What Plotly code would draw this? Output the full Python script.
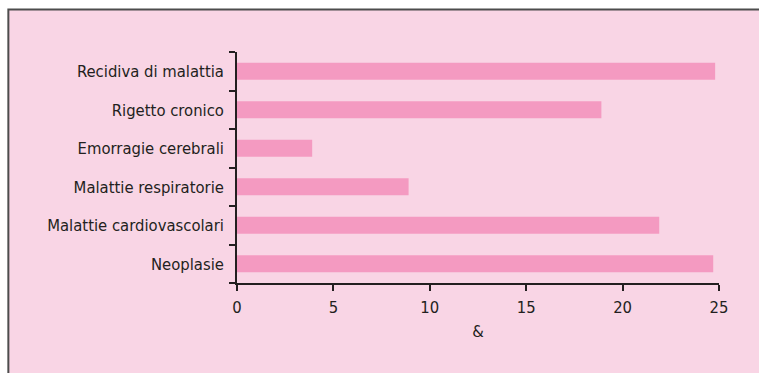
import plotly.graph_objects as go

categories = ["Neoplasie", "Malattie cardiovascolari", "Malattie respiratorie",
              "Emorragie cerebrali", "Rigetto cronico", "Recidiva di malattia"]
values = [24.7, 21.9, 8.9, 3.9, 18.9, 24.8]
x_ticks = [0, 5, 10, 15, 20, 25]
x_title = "&"

PINK_BG = "#f9d5e5"
BAR = "#f49ac1"
TXT = "#231f20"
FONT = "DejaVu Sans Condensed, DejaVu Sans, sans-serif"
FS = 16.5

fig = go.Figure(go.Bar(
    x=values, y=categories, orientation="h",
    marker=dict(color=BAR, line=dict(width=0)),
    width=0.44,
))

W, H = 759, 373
L, R, T, B = 237, 759 - 718.7, 52, 373 - 283.3
pw, ph = W - L - R, H - T - B

fig.add_shape(type="rect", xref="paper", yref="paper", layer="below",
              x0=(8.5 - L) / pw, x1=1.3,
              y0=-0.6, y1=(H - B - 9.5) / ph,
              fillcolor=PINK_BG, line=dict(color="#4d4d4d", width=2))

fig.update_layout(
    width=W, height=H,
    margin=dict(l=L, r=R, t=T, b=B),
    paper_bgcolor="white", plot_bgcolor="rgba(0,0,0,0)",
    font=dict(family=FONT, size=FS, color=TXT),
    showlegend=False,
)
fig.update_xaxes(
    range=[0, 25], tickvals=x_ticks, ticktext=[str(t) for t in x_ticks],
    showgrid=False, zeroline=False, showline=True, linecolor=TXT, linewidth=1.5,
    ticks="outside", ticklen=6, tickcolor=TXT, tickwidth=1.5,
    ticklabelstandoff=2,
    title=dict(text=x_title, font=dict(size=FS, color=TXT), standoff=10),
    tickfont=dict(size=FS, color=TXT),
)
fig.update_yaxes(
    type="category", categoryorder="array", categoryarray=categories,
    range=[-0.5, 5.5], tickson="boundaries",
    showgrid=False, zeroline=False, showline=True, linecolor=TXT, linewidth=1.5,
    ticks="outside", ticklen=6, tickcolor=TXT, tickwidth=1.5,
    ticklabelstandoff=8,
    tickfont=dict(size=FS, color=TXT),
)

fig.write_html("out.html")
